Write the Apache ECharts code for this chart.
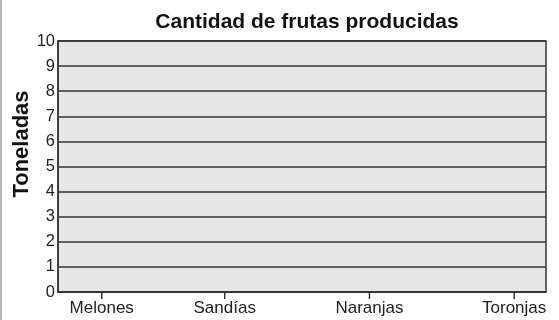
<!DOCTYPE html>
<html>
<head>
<meta charset="utf-8">
<script src="https://cdn.jsdelivr.net/npm/echarts@6/dist/echarts.min.js"></script>
<style>
  html, body { margin: 0; padding: 0; background: #fff; }
  #chart { width: 559px; height: 320px; box-sizing: border-box; border-left: 2px solid #b5b5b5; }
</style>
</head>
<body>
<div id="chart"></div>
<script>
// Fruit categories and where each sits along the horizontal value scale
const categories = ['Melones', 'Sandías', 'Naranjas', 'Toronjas'];
const categoryValues = [0.15, 1, 2, 3];
// Production in tonnes (no amounts recorded yet)
const tonnes = [null, null, null, null];
// Vertical scale
const yTicks = [0, 1, 2, 3, 4, 5, 6, 7, 8, 9, 10];

const chart = echarts.init(document.getElementById('chart'), null, { renderer: 'canvas' });

const labelFor = v => {
  const i = categoryValues.findIndex(c => Math.abs(c - v) < 1e-6);
  return i >= 0 ? categories[i] : '';
};

chart.setOption({
  animation: false,
  title: {
    text: 'Cantidad de frutas producidas',
    left: 300, top: 7, textAlign: 'center',
    textStyle: { fontFamily: 'Liberation Sans', fontWeight: 'bold', fontSize: 21, color: '#111' }
  },
  graphic: [{
    type: 'text',
    x: 20, y: 144, rotation: Math.PI / 2,
    style: {
      text: 'Toneladas', fontFamily: 'Liberation Sans', fontWeight: 'bold', fontSize: 22,
      fill: '#111', align: 'center', verticalAlign: 'middle'
    }
  }],
  grid: {
    left: 56, right: 13, top: 41, bottom: 28,
    show: true, backgroundColor: '#e6e6e6', borderColor: '#333', borderWidth: 1.5
  },
  xAxis: {
    type: 'value', min: -0.152, max: 3.22,
    splitLine: { show: false },
    axisLine: { show: true, onZero: false, lineStyle: { color: '#333', width: 1.5 } },
    axisTick: { show: false },
    axisLabel: {
      customValues: categoryValues, formatter: labelFor, margin: 8,
      fontFamily: 'Liberation Sans', fontSize: 17, color: '#222'
    }
  },
  yAxis: {
    type: 'value', min: yTicks[0], max: yTicks[yTicks.length - 1], interval: 1,
    axisLine: { show: true, onZero: false, lineStyle: { color: '#333', width: 1.5 } },
    axisTick: { show: false },
    axisLabel: { margin: 3, fontFamily: 'Liberation Sans', fontSize: 16.5, color: '#222' },
    splitLine: { show: true, lineStyle: { color: '#333', width: 1.5 } }
  },
  series: [
    {
      // production values (empty)
      type: 'scatter',
      data: categoryValues.map((c, i) => [c, tonnes[i]])
    },
    {
      // short tick marks hanging under the baseline at each category
      type: 'custom',
      clip: false,
      z: 10,
      data: categoryValues.map(c => [c, yTicks[0]]),
      renderItem: (params, api) => {
        const p = api.coord([api.value(0), api.value(1)]);
        return {
          type: 'line',
          shape: { x1: p[0], y1: p[1] - 1, x2: p[0], y2: p[1] + 7 },
          style: { stroke: '#333', lineWidth: 1.5 }
        };
      }
    }
  ]
});
</script>
</body>
</html>
